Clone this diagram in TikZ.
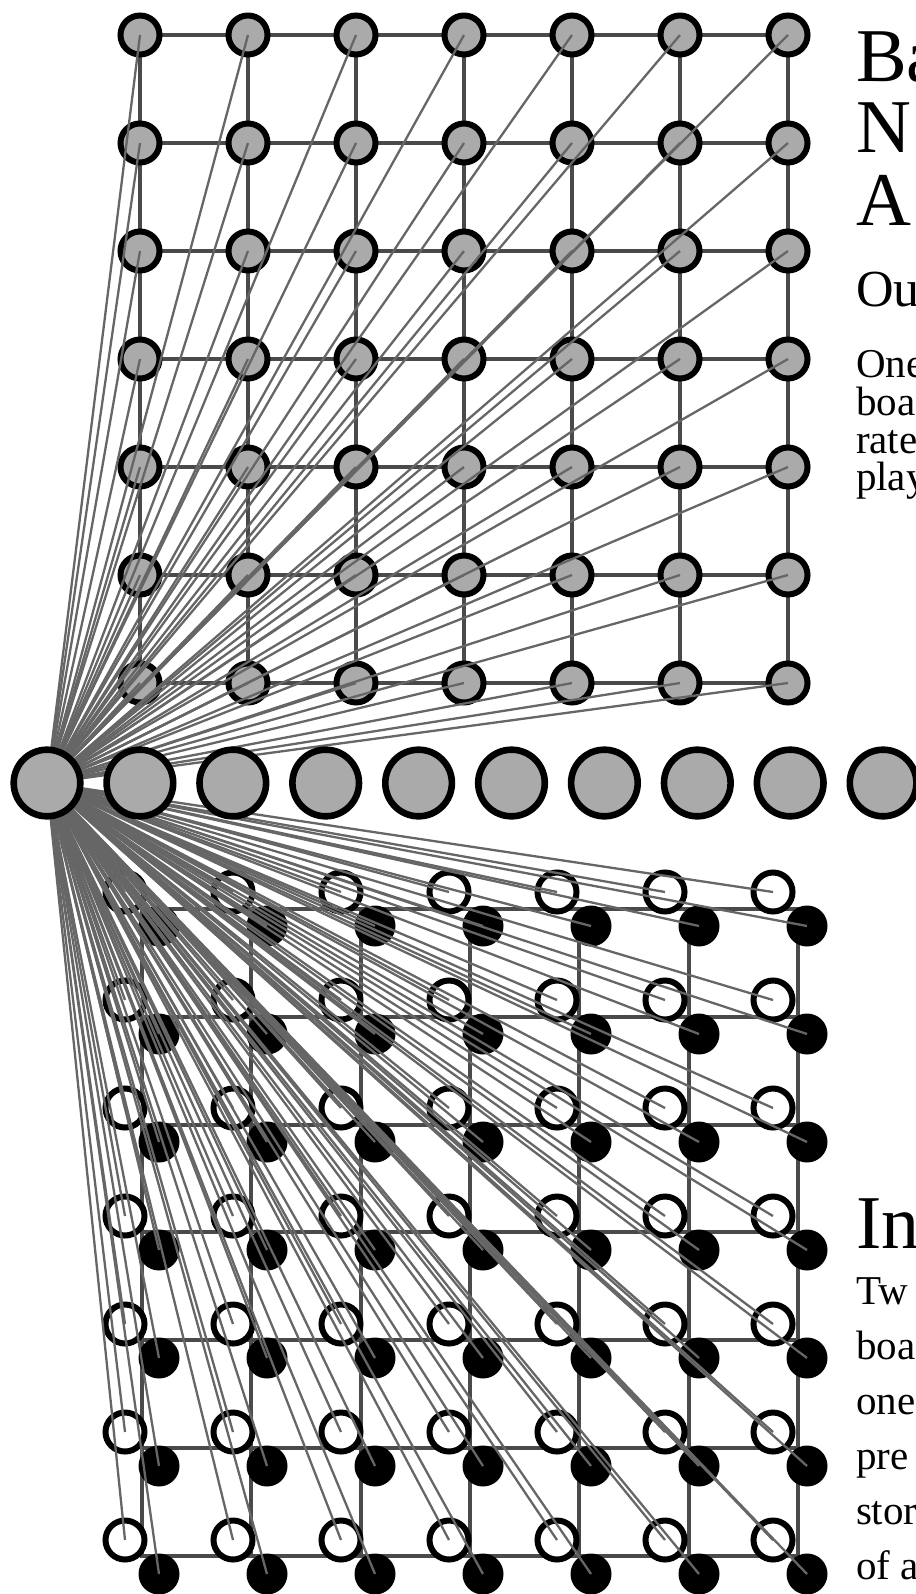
\documentclass[tikz,border=0pt]{standalone}
\usepackage{fontspec}
\setmainfont{Liberation Serif}

\pgfdeclarelayer{background}
\pgfdeclarelayer{links}
\pgfdeclarelayer{front}
\pgfsetlayers{background,main,links,front}

\definecolor{unitgray}{HTML}{AAAAAA}
\definecolor{linkgray}{HTML}{666666}
\definecolor{boardgray}{HTML}{4A4A4A}

\begin{document}
\begin{tikzpicture}[
  x=0.5pt,
  y=-0.5pt,
  unit/.style={circle, draw=black, line width=3pt, fill=unitgray, minimum size=19.5pt, inner sep=0pt, outer sep=0pt},
  hidden/.style={unit, line width=3.3pt, minimum size=33.3pt},
  wstone/.style={circle, draw=black, line width=3pt, fill=white, minimum size=19.5pt, inner sep=0pt, outer sep=0pt},
  bstone/.style={circle, fill=black, minimum size=20.5pt, inner sep=0pt, outer sep=0pt},
  board/.style={draw=boardgray, line width=2pt, line cap=rect},
  link/.style={draw=linkgray, line width=1.15pt},
  txt/.style={anchor=base west, inner sep=0pt, outer sep=0pt},
  titletxt/.style={txt, font=\fontsize{38}{38}\selectfont},
  headtxt/.style={txt, font=\fontsize{26}{26}\selectfont},
  bodytxt/.style={txt, font=\fontsize{20.5}{20.5}\selectfont}
]

\useasboundingbox (0,0) rectangle (915,1594);
\clip (0,0) rectangle (915,1594);

% output board
\foreach \i in {0,...,6}
  \foreach \j in {0,...,6}
    \node[unit] (out-\i-\j) at ({140+108*\i},{35+108*\j}) {};

% input boards
\foreach \i in {0,...,6}
  \foreach \j in {0,...,6} {
    \node[wstone] (wht-\i-\j) at ({125+108*\i},{892+108*\j}) {};
    \node[bstone] (blk-\i-\j) at ({159+108*\i},{926+108*\j}) {};
  }

\begin{pgfonlayer}{background}
  \foreach \k in {0,...,6} {
    \draw[board] (out-0-\k.center) -- (out-6-\k.center);
    \draw[board] (out-\k-0.center) -- (out-\k-6.center);
  }
  \foreach \k in {0,...,6} {
    \draw[board] ({142+109.3*\k},909) -- ({142+109.3*\k},1556);
    \draw[board] (142,{909+107.8*\k}) -- (798,{909+107.8*\k});
  }
\end{pgfonlayer}

\begin{pgfonlayer}{front}
  \foreach \k in {0,...,9}
    \node[hidden] (hid-\k) at ({47+92.9*\k},783) {};
\end{pgfonlayer}

\begin{pgfonlayer}{links}
  \foreach \i in {0,...,6}
    \foreach \j in {0,...,6} {
      \draw[link] (hid-0.center) -- (out-\i-\j.center);
      \draw[link] (hid-0.center) -- (wht-\i-\j.center);
      \draw[link] (hid-0.center) -- (blk-\i-\j.center);
    }
\end{pgfonlayer}

\node[titletxt] (title-1) at (856,82) {Ba};
\node[titletxt] (title-2) at (856,153) {N};
\node[titletxt] (title-3) at (856,226) {A};
\node[headtxt] (outhead) at (856,306) {Ou};
\node[bodytxt] (out-1) at (856,377) {One};
\node[bodytxt] (out-2) at (856,415) {boa};
\node[bodytxt] (out-3) at (856,453) {rate};
\node[bodytxt] (out-4) at (856,490) {play};

\node[titletxt] (inhead) at (856,1248) {Inp};
\node[bodytxt] (in-1) at (856,1304) {Tw};
\node[bodytxt] (in-2) at (856,1359) {boa};
\node[bodytxt] (in-3) at (856,1414) {one};
\node[bodytxt] (in-4) at (856,1469) {pre};
\node[bodytxt] (in-5) at (856,1524) {stor};
\node[bodytxt] (in-6) at (856,1579) {of a};

\end{tikzpicture}
\end{document}
